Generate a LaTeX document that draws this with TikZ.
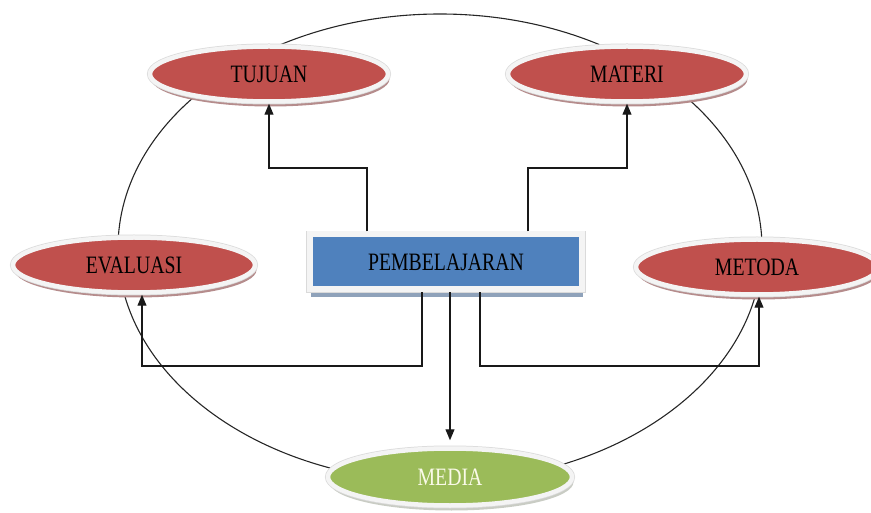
\documentclass[tikz,border=0pt]{standalone}
\usepackage{fontspec}
\setmainfont{Liberation Serif}[FakeStretch=0.79]
\usetikzlibrary{shapes.geometric,shadows,arrows.meta}
\definecolor{ered}{HTML}{C0504D}
\definecolor{eblue}{HTML}{4F81BD}
\definecolor{egreen}{HTML}{9BBB59}
\definecolor{shred}{HTML}{B58C8C}
\definecolor{shblue}{HTML}{8FA2BA}
\definecolor{shgreen}{HTML}{C9CCC4}
\definecolor{rimcol}{HTML}{F4F4F4}
\definecolor{rimedge}{HTML}{DADADA}
\definecolor{mediatext}{HTML}{FAFAE8}
\begin{document}
\begin{tikzpicture}[x=1pt,y=-1pt,
  lbl/.style={font=\fontsize{25}{25}\selectfont},
  oval/.style={ellipse, inner sep=0pt, lbl},
  rimmed/.style={draw=rimcol, line width=4.5pt, preaction={draw=rimedge, line width=6pt}},
  redoval/.style={oval, minimum width=238pt, minimum height=55pt,
    drop shadow={shadow xshift=1.5pt, shadow yshift=-5pt, fill=shred, opacity=1},
    rimmed, fill=ered, text=black},
  greenoval/.style={oval, minimum width=244pt, minimum height=57pt,
    drop shadow={shadow xshift=1.5pt, shadow yshift=-5pt, fill=shgreen, opacity=1},
    rimmed, fill=egreen, text=mediatext},
  bluebox/.style={rectangle, inner sep=0pt, minimum width=272pt, minimum height=55pt,
    drop shadow={shadow xshift=1pt, shadow yshift=-8pt, fill=shblue, opacity=1},
    draw=rimcol, line width=6pt, preaction={draw=rimedge, line width=7.5pt},
    fill=eblue, lbl},
  conn/.style={line width=1.2pt, draw=black!90, -{Triangle[length=11pt,width=9pt]}},
  ring/.style={line width=1.1pt, draw=black!85}
]
\useasboundingbox (0,0) rectangle (871,513);

% big surrounding ellipse
\draw[ring] (440,248) ellipse [x radius=322, y radius=234];

% nodes
\node[redoval] (tujuan) at (269,74) {TUJUAN};
\node[redoval] (materi) at (627,74) {MATERI};
\node[redoval, minimum width=242pt] (evaluasi) at (134,265) {EVALUASI};
\node[redoval, minimum width=242pt] (metoda) at (757,267) {METODA};
\node[greenoval] (media) at (450,477) {MEDIA};
\node[bluebox] (pemb) at (446,262) {PEMBELAJARAN};

% bend points
\coordinate (b1) at (367,168);
\coordinate (b2) at (528,168);
\coordinate (b3) at (422,366);
\coordinate (b4) at (480,366);

% connectors
\draw[conn] (b1 |- pemb.north) -- (b1) -| (tujuan.south);
\draw[conn] (b2 |- pemb.north) -- (b2) -| (materi.south);
\draw[conn] (b3 |- pemb.south) -- (b3) -| ([xshift=8pt]evaluasi.south);
\draw[conn] (b4 |- pemb.south) -- (b4) -| ([xshift=2pt]metoda.south);
\draw[conn, shorten >=6pt] (media.north |- pemb.south) -- (media.north);
\end{tikzpicture}
\end{document}
